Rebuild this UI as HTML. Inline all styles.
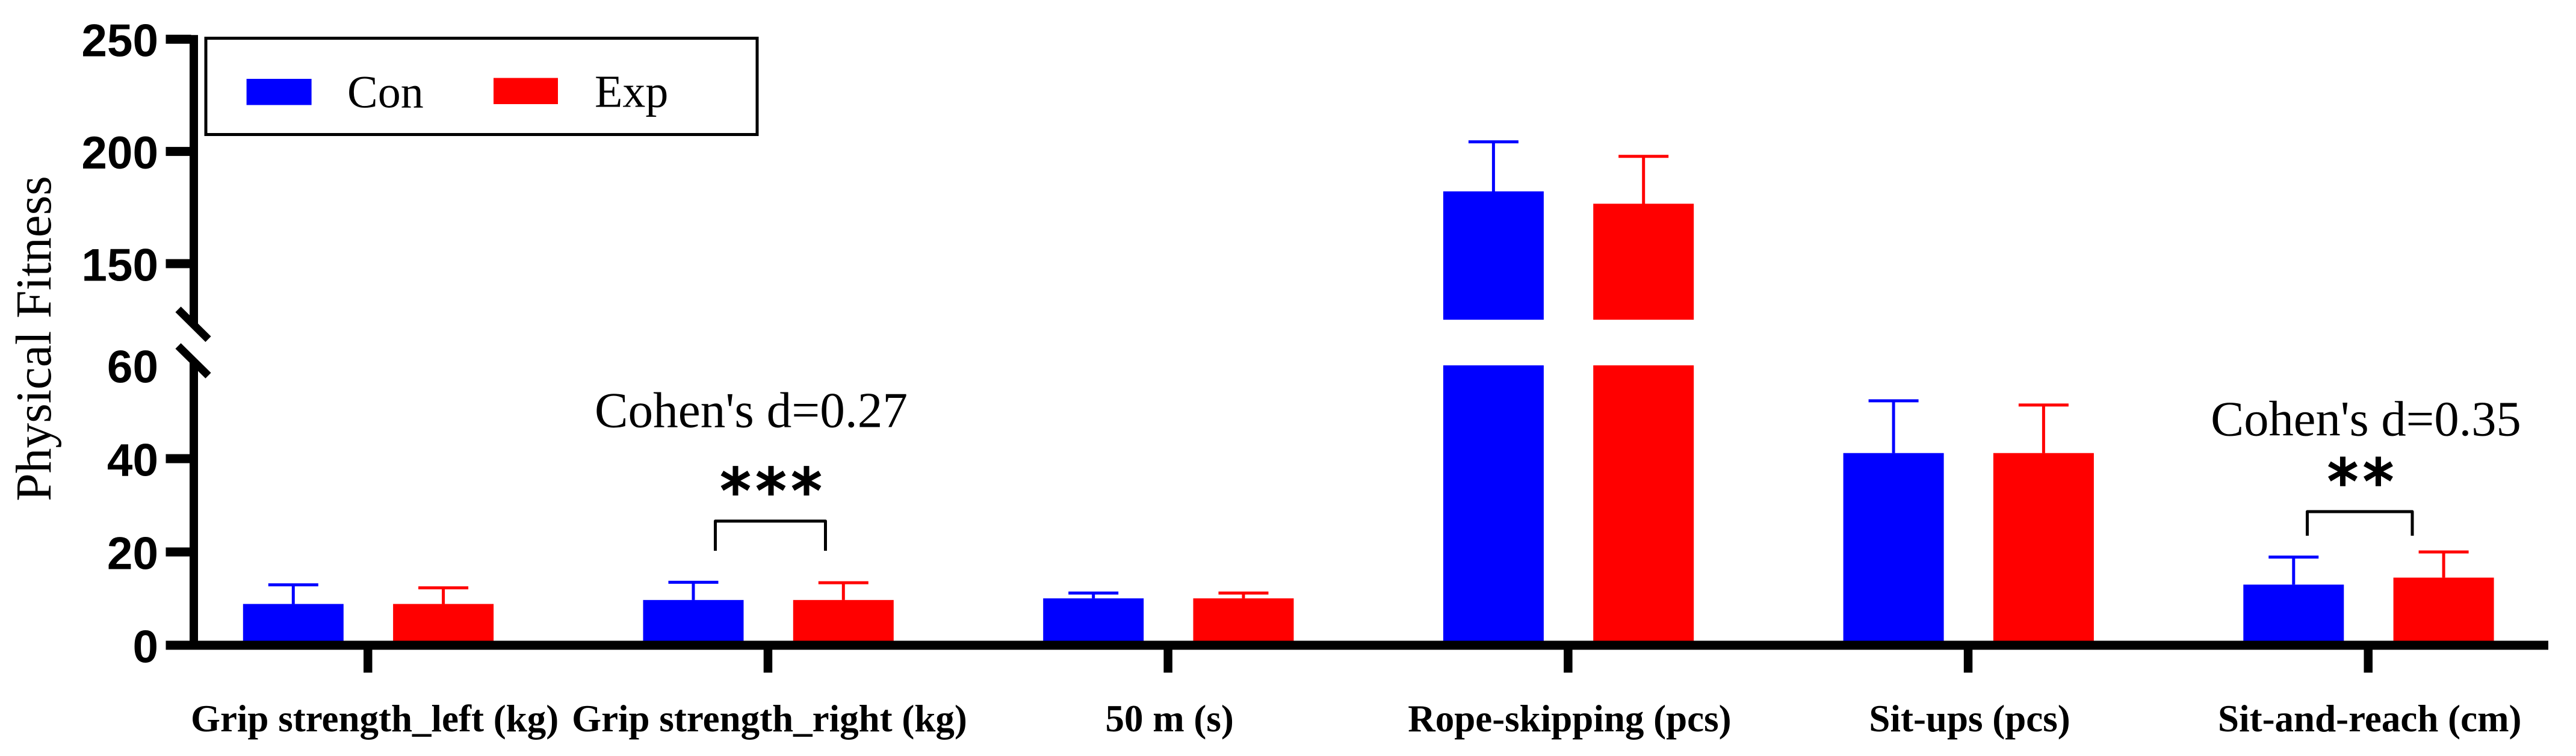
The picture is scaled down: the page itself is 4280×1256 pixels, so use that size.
<!DOCTYPE html>
<html lang="en">
<head>
<meta charset="utf-8">
<title>Physical Fitness Chart</title>
<style>
html,body{margin:0;padding:0;background:#fff;}
svg{display:block;}
.serif{font-family:"Liberation Serif","Times New Roman",serif;}
.sans{font-family:"Liberation Sans",Arial,sans-serif;}
.stars{font-family:"DejaVu Sans",sans-serif;}
</style>
</head>
<body>
<svg id="chart" xmlns="http://www.w3.org/2000/svg" width="4280" height="1256" viewBox="0 0 4280 1256">
  <rect x="0" y="0" width="4280" height="1256" fill="#ffffff"/>
  <g id="bars"></g>
  <g id="axes"></g>

  <text class="serif" font-size="83.5" text-anchor="middle" transform="translate(84,562.5) rotate(-90)">Physical Fitness</text>

  <g>
    <rect x="342" y="63.5" width="916" height="160" fill="none" stroke="#000" stroke-width="5"/>
    <rect x="409.6" y="131" width="108" height="43.5" fill="#0000ff"/>
    <text class="serif" font-size="76" x="577" y="178.5">Con</text>
    <rect x="820" y="129.5" width="107" height="43.5" fill="#ff0000"/>
    <text class="serif" font-size="76" x="988" y="177.5">Exp</text>
  </g>

  <g>
    <text class="serif" font-size="83.3" x="1248" y="709.5" text-anchor="middle">Cohen's d=0.27</text>
    <text class="stars" font-size="100" letter-spacing="9" stroke="#000" stroke-width="3.5" x="1285.5" y="850" text-anchor="middle">***</text>
    <path d="M1188.5 915V865.8H1371.5V915" fill="none" stroke="#000" stroke-width="5" stroke-linejoin="round"/>
  </g>
  <g>
    <text class="serif" font-size="82.6" x="3931" y="723.5" text-anchor="middle">Cohen's d=0.35</text>
    <text class="stars" font-size="100" letter-spacing="9" stroke="#000" stroke-width="3.5" x="3926.5" y="834.4" text-anchor="middle">**</text>
    <path d="M3833.5 890V850H4008V890" fill="none" stroke="#000" stroke-width="5" stroke-linejoin="round"/>
  </g>
</svg>
<script>
const categories = ["Grip strength_left (kg)", "Grip strength_right (kg)", "50 m (s)", "Rope-skipping (pcs)", "Sit-ups (pcs)", "Sit-and-reach (cm)"];
const conMeans = [8.85, 9.7, 10.05, 182.2, 41.2, 13];
const conErrors = [4.1, 3.8, 1.15, 22.1, 11.2, 5.9];
const expMeans = [8.85, 9.7, 10.05, 176.7, 41.2, 14.5];
const expErrors = [3.45, 3.7, 1.15, 21.1, 10.3, 5.5];
const lowerTicks = [0, 20, 40, 60];
const upperTicks = [150, 200, 250];

const NS = "http://www.w3.org/2000/svg";
const LOW_ZERO_Y = 1072, LOW_PX_PER_UNIT = 7.75;
const UP_150_Y = 438, UP_PX_PER_UNIT = 3.728;
const BREAK_LOW = 60, BREAK_HIGH = 125;
const AXIS_X = 322, AXIS_W = 14, AXIS_RIGHT = 4234;
const TICK_START = 611, TICK_STEP = 664.7;
const BAR_W = 167, CON_OFFSET = -123.7, EXP_OFFSET = 125.6, CAP_W = 83, ERR_STROKE = 5;

function yScale(v) {
  return v <= BREAK_LOW ? LOW_ZERO_Y - v * LOW_PX_PER_UNIT : UP_150_Y - (v - 150) * UP_PX_PER_UNIT;
}
function xScale(i) {
  return TICK_START + i * TICK_STEP;
}
function make(parent, tag, attrs, text) {
  const el = document.createElementNS(NS, tag);
  for (const k in attrs) el.setAttribute(k, attrs[k]);
  if (text !== undefined) el.textContent = text;
  parent.appendChild(el);
  return el;
}

const barsLayer = document.getElementById("bars");
const axesLayer = document.getElementById("axes");

function drawBar(i, cx, mean, err, color, series) {
  const left = cx - BAR_W / 2;
  const bottom = yScale(0);
  const lowTop = yScale(Math.min(mean, BREAK_LOW));
  const low = make(barsLayer, "rect", {x: left, y: lowTop, width: BAR_W, height: bottom - lowTop, fill: color});
  
  
  if (mean > BREAK_HIGH) {
    const top = yScale(mean);
    const up = make(barsLayer, "rect", {x: left, y: top, width: BAR_W, height: yScale(BREAK_HIGH) - top, fill: color});
    
    
  }
  const topY = yScale(mean);
  const capY = yScale(mean + err);
  const stem = make(barsLayer, "line", {x1: cx, x2: cx, y1: topY, y2: capY, stroke: color, "stroke-width": ERR_STROKE});
  
  
  const cap = make(barsLayer, "line", {x1: cx - CAP_W / 2, x2: cx + CAP_W / 2, y1: capY, y2: capY, stroke: color, "stroke-width": ERR_STROKE});
  
  
}

categories.forEach(function (name, i) {
  const tickX = xScale(i);
  drawBar(i, tickX + CON_OFFSET, conMeans[i], conErrors[i], "#0000ff", "con-" + i);
  drawBar(i, tickX + EXP_OFFSET, expMeans[i], expErrors[i], "#ff0000", "exp-" + i);

  const tick = make(axesLayer, "rect", {x: tickX - 7, y: 1079, width: 14.5, height: 38.5, fill: "#000"});
  
  

  const label = make(axesLayer, "text", {
    x: tickX + (i === 0 ? 11.6 : 2.8), y: 1215, "text-anchor": "middle",
    "font-size": 63, "font-weight": "bold", "class": "serif"
  }, name);
  
  
});

const axisUpper = make(axesLayer, "rect", {x: AXIS_X - AXIS_W / 2, y: yScale(250) - 7, width: AXIS_W, height: 539 - yScale(250) + 7, fill: "#000"});



const axisLower = make(axesLayer, "rect", {x: AXIS_X - AXIS_W / 2, y: 600, width: AXIS_W, height: 472, fill: "#000"});



const xAxis = make(axesLayer, "rect", {x: 275.5, y: 1064.5, width: AXIS_RIGHT - 275.5, height: 15, fill: "#000"});



const breakA = make(axesLayer, "line", {x1: 296, y1: 514, x2: 346, y2: 563.5, stroke: "#000", "stroke-width": 13});



const breakB = make(axesLayer, "line", {x1: 296, y1: 574.7, x2: 346, y2: 624, stroke: "#000", "stroke-width": 13});



lowerTicks.concat(upperTicks).forEach(function (v) {
  const y = yScale(v);
  if (v !== BREAK_LOW && v !== 0) {
    const t = make(axesLayer, "rect", {x: 275.5, y: y - 7.5, width: 42, height: 15, fill: "#000"});
    
    
  }
  const lbl = make(axesLayer, "text", {
    x: 263, y: y + 28.5, "text-anchor": "end",
    "font-size": 76.5, "font-weight": "bold", "class": "sans"
  }, String(v));
  
  
});
</script>
</body>
</html>
